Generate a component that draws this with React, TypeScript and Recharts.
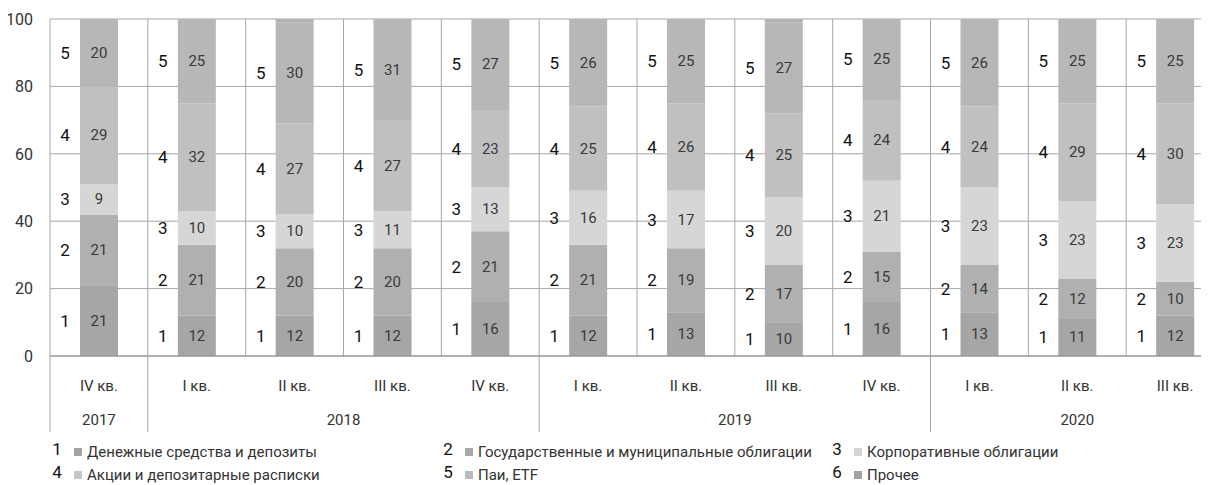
import React from "react";
import { BarChart, Bar, XAxis, YAxis, CartesianGrid, LabelList } from "recharts";

const quarters = ["IV кв.", "I кв.", "II кв.", "III кв.", "IV кв.", "I кв.", "II кв.", "III кв.", "IV кв.", "I кв.", "II кв.", "III кв."];
const yearGroups = [
  { year: "2017", start: 0, count: 1 },
  { year: "2018", start: 1, count: 4 },
  { year: "2019", start: 5, count: 4 },
  { year: "2020", start: 9, count: 3 },
];
const cash = [21, 12, 12, 12, 16, 12, 13, 10, 16, 13, 11, 12];
const govBonds = [21, 21, 20, 20, 21, 21, 19, 17, 15, 14, 12, 10];
const corpBonds = [9, 10, 10, 11, 13, 16, 17, 20, 21, 23, 23, 23];
const shares = [29, 32, 27, 27, 23, 25, 26, 25, 24, 24, 29, 30];
const funds = [20, 25, 30, 31, 27, 26, 25, 27, 25, 26, 25, 25];
const other = [0, 0, 1, 0, 0, 0, 0, 1, 0, 0, 0, 0];
const yTicks = [0, 20, 40, 60, 80, 100];

const seriesNames = [
  "Денежные средства и депозиты",
  "Государственные и муниципальные облигации",
  "Корпоративные облигации",
  "Акции и депозитарные расписки",
  "Паи, ETF",
  "Прочее",
];
const seriesColors = ["#a6a6a6", "#b0b0b0", "#d6d6d6", "#c0c0c0", "#b7b7b7", "#b2b2b2"];
const legendColors = ["#a3a3a3", "#a8a8a8", "#d4d4d4", "#c6c6c6", "#bbbbbb", "#a3a3a3"];

const data = quarters.map((q, i) => ({
  q,
  s1: cash[i],
  s2: govBonds[i],
  s3: corpBonds[i],
  s4: shares[i],
  s5: funds[i],
  s6: other[i],
}));

const FONT = "Roboto, 'Noto Sans', sans-serif";
const CHART_W = 1216;
const CHART_H = 477;
const MARGIN = { top: 11, right: 0, bottom: 53, left: 0 };
const Y_W = 42;
const X_H = 76;
const PLOT_W = CHART_W - MARGIN.left - MARGIN.right - Y_W;
const PLOT_BOTTOM = CHART_H - MARGIN.bottom - X_H;
const BAND = PLOT_W / quarters.length;
const LINE = "#a6a6a6";

const XTick = (props: any) => {
  const { x, index } = props;
  const group = yearGroups.find((g) => g.start === index);
  return (
    <g>
      <text x={x} y={PLOT_BOTTOM + 35} textAnchor="middle" fontSize={15} fill="#333" fontFamily={FONT}>
        {quarters[index]}
      </text>
      {group && (
        <g>
          <line x1={x - BAND / 2} x2={x - BAND / 2} y1={PLOT_BOTTOM} y2={PLOT_BOTTOM + X_H} stroke={LINE} strokeWidth={1} />
          <text
            x={x - BAND / 2 + (group.count * BAND) / 2}
            y={PLOT_BOTTOM + 69}
            textAnchor="middle"
            fontSize={15}
            fill="#333"
            fontFamily={FONT}
          >
            {group.year}
          </text>
        </g>
      )}
    </g>
  );
};

const YTick = (props: any) => {
  const { y, payload } = props;
  return (
    <text x={25} y={y} dy="0.36em" textAnchor="end" fontSize={16} fill="#333" fontFamily={FONT}>
      {payload.value}
    </text>
  );
};

const makeSideLabel = (n: number) => (p: any) => {
  const { x, y, height } = p;
  if (!height || height < 3) return null;
  return (
    <text x={x - 15} y={y + height / 2 + 6} textAnchor="middle" fontSize={17} fill="#111" fontFamily={FONT}>
      {n}
    </text>
  );
};

const valueLabel = (p: any) => {
  const { x, y, width, height, value } = p;
  if (!value || height < 3) return null;
  return (
    <text x={x + width / 2} y={y + height / 2 + 5} textAnchor="middle" fontSize={15} fill="#3a3a3a" fontFamily={FONT}>
      {value}
    </text>
  );
};

const legendPos = [
  { num: 0, x: 49, y: 437 },
  { num: 1, x: 440, y: 437 },
  { num: 2, x: 829, y: 437 },
  { num: 3, x: 49, y: 460 },
  { num: 4, x: 440, y: 460 },
  { num: 5, x: 829, y: 460 },
];

export default function App() {
  const verticalGen = ({ offset }: any) =>
    quarters.map((_, i) => offset.left + (i * offset.width) / quarters.length);
  return (
    <div style={{ position: "relative", width: 1201, height: CHART_H, overflow: "hidden", fontFamily: FONT }}>
      <BarChart width={CHART_W} height={CHART_H} data={data} margin={MARGIN} style={{ overflow: "visible" }}>
        <CartesianGrid stroke={LINE} verticalCoordinatesGenerator={verticalGen} horizontal={true} vertical={true} />
        <XAxis
          dataKey="q"
          height={X_H}
          tickLine={false}
          axisLine={{ stroke: "#8f8f8f" }}
          interval={0}
          tick={<XTick />}
        />
        <YAxis
          width={Y_W}
          domain={[0, 100]}
          ticks={yTicks}
          allowDataOverflow
          tickLine={false}
          axisLine={false}
          tick={<YTick />}
        />
        {["s1", "s2", "s3", "s4", "s5", "s6"].map((k, i) => (
          <Bar key={k} dataKey={k} stackId="a" fill={seriesColors[i]} barSize={38} isAnimationActive={false}>
            {i < 5 && <LabelList dataKey={k} content={valueLabel} />}
            {i < 5 && <LabelList dataKey={k} content={makeSideLabel(i + 1)} />}
          </Bar>
        ))}
      </BarChart>
      {legendPos.map((l) => (
        <div key={l.num} style={{ position: "absolute", left: l.x - 6, top: l.y - 2, display: "flex", alignItems: "center", whiteSpace: "nowrap" }}>
          <span style={{ fontSize: 17, color: "#111", width: 12, textAlign: "center", lineHeight: "18px", position: "relative", top: -3 }}>
            {l.num + 1}
          </span>
          <span style={{ display: "inline-block", width: 8, height: 8, background: legendColors[l.num], marginLeft: 11, marginRight: 5 }} />
          <span style={{ fontSize: 15, color: "#333", lineHeight: "18px" }}>{seriesNames[l.num]}</span>
        </div>
      ))}
    </div>
  );
}
